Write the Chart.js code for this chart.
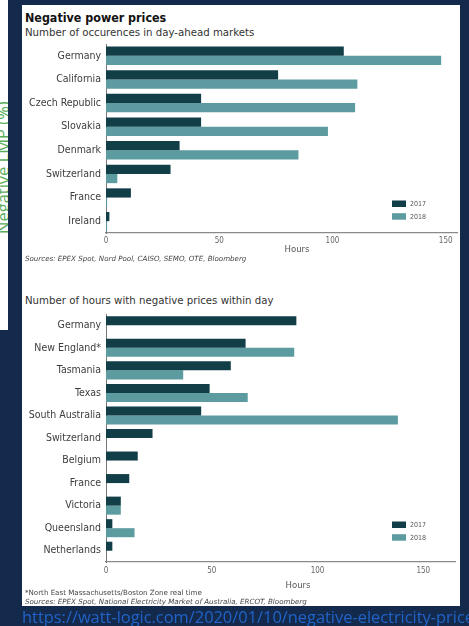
<!DOCTYPE html>
<html>
<head>
<meta charset="utf-8">
<script src="https://cdn.jsdelivr.net/npm/chart.js@4.4.1/dist/chart.umd.min.js"></script>
<style>
  html, body { margin: 0; padding: 0; }
  body {
    width: 469px; height: 626px; position: relative; overflow: hidden;
    background: #142a4c;
    font-family: "DejaVu Sans Condensed", "DejaVu Sans", sans-serif;
  }
  #side { position: absolute; left: 0; top: 0; width: 8px; height: 330px; background: #fff; overflow: hidden; }
  #side span {
    position: absolute; left: -5px; top: 234px; white-space: nowrap;
    font: 16.5px/1 "Open Sans", sans-serif; color: #5aac5a;
    transform: rotate(-90deg); transform-origin: 0 0;
  }
  #panel { position: absolute; left: 22px; top: 5px; width: 438px; height: 601px; background: #fff; }
  .txt { position: absolute; white-space: nowrap; line-height: 1; }
  .title { left: 25px; top: 11.5px; font-size: 12.4px; font-weight: bold; color: #111; }
  .sub { left: 25px; font-family: "DejaVu Sans", sans-serif; font-size: 10.2px; color: #333; }
  .src { left: 25px; font-family: "DejaVu Sans", sans-serif; font-size: 7.1px; font-style: italic; color: #444; }
  .note { left: 25px; font-family: "DejaVu Sans", sans-serif; font-size: 7.1px; color: #444; }
  .axt { font-size: 9.5px; color: #555; transform: translateX(-50%); }
  .link { left: 22px; top: 609px; font: 16.4px/1 "Open Sans", sans-serif; color: #2163c8; }
  canvas { position: absolute; }
</style>
</head>
<body>
<div id="side"><span>Negative LMP (%)</span></div>
<div id="panel"></div>

<div class="txt title">Negative power prices</div>
<div class="txt sub" style="top:28px">Number of occurences in day-ahead markets</div>
<canvas id="dayAhead" width="438" height="260" style="left:22px;top:0px"></canvas>
<div class="txt axt" style="left:297px;top:244px">Hours</div>
<div class="txt src" style="top:254.5px">Sources: EPEX Spot, Nord Pool, CAISO, SEMO, OTE, Bloomberg</div>

<div class="txt sub" style="top:295.5px">Number of hours with negative prices within day</div>
<canvas id="intraday" width="438" height="290" style="left:22px;top:300px"></canvas>
<div class="txt axt" style="left:298px;top:580px">Hours</div>
<div class="txt note" style="top:589px">*North East Massachusetts/Boston Zone real time</div>
<div class="txt src" style="top:597.5px">Sources: EPEX Spot, National Electricity Market of Australia, ERCOT, Bloomberg</div>

<div class="txt link">https://watt-logic.com/2020/01/10/negative-electricity-prices/</div>

<script>
// Series years shown in both legends
const seriesYears = ["2017", "2018"];

// Day-ahead markets: occurrences of negative prices (hours)
const dayAheadMarkets = ["Germany", "California", "Czech Republic", "Slovakia", "Denmark", "Switzerland", "France", "Ireland"];
const dayAhead2017 = [105, 76, 42, 42, 32.5, 28.5, 11, 1.5];
const dayAhead2018 = [148, 111, 110, 98, 85, 5, 0.5, 0.5];

// Within-day markets: hours with negative prices
const intradayMarkets = ["Germany", "New England*", "Tasmania", "Texas", "South Australia", "Switzerland", "Belgium", "France", "Victoria", "Queensland", "Netherlands"];
const intraday2017 = [90, 66, 59, 49, 45, 22, 15, 11, 7, 3, 3];
const intraday2018 = [0, 89, 36.5, 67, 138, 0, 0, 0, 7, 13.5, 0];

// Hour ticks on the horizontal axes
const hourTicks = [0, 50, 100, 150];

const COLOR_2017 = "#123e48";
const COLOR_2018 = "#5c9ca0";
const FONT = "'DejaVu Sans Condensed', 'DejaVu Sans', sans-serif";

// Small legend drawn inside the plot corner, built from the datasets
const cornerLegend = {
  id: "cornerLegend",
  afterDraw(chart, args, opts) {
    const ctx = chart.ctx;
    ctx.save();
    ctx.font = opts.font;
    ctx.textBaseline = "middle";
    chart.data.datasets.forEach((ds, i) => {
      const y = opts.y + i * opts.rowGap;
      ctx.fillStyle = ds.backgroundColor;
      ctx.fillRect(opts.x, y, opts.boxWidth, opts.boxHeight);
      ctx.fillStyle = opts.color;
      ctx.fillText(ds.label, opts.x + opts.boxWidth + opts.textGap, y + opts.boxHeight / 2 + 0.5);
    });
    ctx.restore();
  }
};

function makeChart(id, labels, v2017, v2018, layout) {
  return new Chart(document.getElementById(id), {
    type: "bar",
    data: {
      labels: labels,
      datasets: [
        { label: seriesYears[0], data: v2017, backgroundColor: COLOR_2017 },
        { label: seriesYears[1], data: v2018, backgroundColor: COLOR_2018 }
      ]
    },
    options: {
      indexAxis: "y",
      responsive: false,
      animation: false,
      events: [],
      datasets: { bar: { barPercentage: 1, categoryPercentage: layout.catPct } },
      layout: { padding: { top: layout.padTop, right: layout.padRight, left: 0, bottom: 0 } },
      plugins: {
        legend: { display: false },
        tooltip: { enabled: false },
        cornerLegend: {
          x: 370, y: layout.legendY, boxWidth: 14, boxHeight: 6.5, rowGap: 12.7, textGap: 4,
          font: "7px " + FONT, color: "#555"
        }
      },
      scales: {
        x: {
          min: 0, max: layout.max,
          grid: { display: false, drawTicks: false },
          border: { display: true, color: "#8a8a8a", width: 1.2 },
          ticks: { padding: layout.tickPad, color: "#666", font: { family: FONT, size: 8 } },
          afterBuildTicks: s => { s.ticks = hourTicks.map(v => ({ value: v })); },
          afterFit: s => { s.height = layout.xHeight; }
        },
        y: {
          grid: { display: false, drawTicks: false },
          border: { display: true, color: "#777", width: 1 },
          ticks: { padding: 5, color: "#3c3c3c", font: { family: FONT, size: 10.5 } },
          afterFit: s => { s.width = 84; }
        }
      }
    },
    plugins: [cornerLegend]
  });
}

makeChart("dayAhead", dayAheadMarkets, dayAhead2017, dayAhead2018,
  { catPct: 0.78, padTop: 44, padRight: 3, max: 155, xHeight: 27, tickPad: 3, legendY: 200.5 });
makeChart("intraday", intradayMarkets, intraday2017, intraday2018,
  { catPct: 0.8, padTop: 14, padRight: 5, max: 165, xHeight: 28, tickPad: 4, legendY: 221.5 });
</script>
</body>
</html>
